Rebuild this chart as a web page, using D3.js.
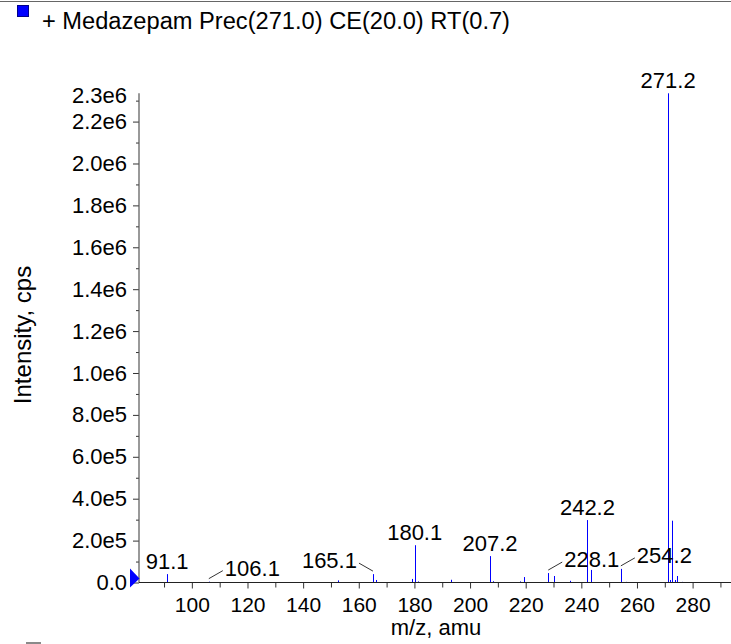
<!DOCTYPE html>
<html>
<head>
<meta charset="utf-8">
<script src="https://cdn.jsdelivr.net/npm/d3@7"></script>
<style>
  html, body { margin: 0; padding: 0; background: #fff; }
  svg { display: block; font-family: "Liberation Sans", Arial, Helvetica, sans-serif; }
</style>
</head>
<body>
<svg id="chart" width="731" height="644"></svg>
<script>
// ---- data ----
const title = "+ Medazepam Prec(271.0) CE(20.0) RT(0.7)";
const xTitle = "m/z, amu";
const yTitle = "Intensity, cps";

// all sticks of the spectrum
const stickMz = [91.1, 106.1, 125.7, 130.5, 135.3, 140.4, 152.4, 165.1, 166.1, 179.0, 180.1, 181.2,
  193.2, 207.2, 208.4, 218.0, 219.5, 228.1, 230.1, 236.0, 242.2, 243.6, 254.2, 256.2,
  271.2, 271.9, 272.7, 273.8, 274.5, 276.2];
const stickIntensity = [40000, 4000, 2000, 2000, 2000, 2000, 10000, 40000, 12000, 17000, 178000, 5000,
  13000, 126000, 6000, 5000, 26000, 45000, 31000, 8000, 298000, 60000, 65000, 3000,
  2335000, 12000, 295000, 12000, 31000, 3000];

// labelled peaks
const labelMz = [91.1, 106.1, 165.1, 180.1, 207.2, 228.1, 242.2, 254.2, 271.2];
const labelIntensity = [40000, 4000, 40000, 178000, 126000, 45000, 298000, 65000, 2335000];
const labelText = ["91.1", "106.1", "165.1", "180.1", "207.2", "228.1", "242.2", "254.2", "271.2"];
// leader direction for labels that are offset from their peak (0 = directly above)
const labelLeader = [0, 1, -1, 0, 0, 1, 0, 1, 0];

const xDomain = [81, 293.8];
const yDomain = [0, 2335000];
const xMajorTicks = [100, 120, 140, 160, 180, 200, 220, 240, 260, 280];
const xMinorTicks = [90, 110, 130, 150, 170, 190, 210, 230, 250, 270, 290];
const yMajorTicks = [0, 200000, 400000, 600000, 800000, 1000000, 1200000, 1400000, 1600000,
  1800000, 2000000, 2200000];
const yMinorTicks = [100000, 300000, 500000, 700000, 900000, 1100000, 1300000, 1500000, 1700000,
  1900000, 2100000, 2300000];
const yTickLabels = ["0.0", "2.0e5", "4.0e5", "6.0e5", "8.0e5", "1.0e6", "1.2e6", "1.4e6", "1.6e6",
  "1.8e6", "2.0e6", "2.2e6"];
const yTopLabel = "2.3e6";

(function () {
// ---- layout ----
const svg = d3.select("#chart");
const pLeft = 139, pRight = 731, pTop = 93.3, pBottom = 582.5;
const x = d3.scaleLinear().domain(xDomain).range([pLeft, pRight]);
const y = d3.scaleLinear().domain(yDomain).range([pBottom, pTop]);
const blue = "#0000ff";
const snap = v => Math.round(v) + 0.5;

// top frame line
svg.append("line").attr("x1", 0).attr("x2", 731).attr("y1", 1.5).attr("y2", 1.5)
  .attr("stroke", "#666").attr("stroke-width", 1.2);

// legend
svg.append("rect").attr("x", 17.5).attr("y", 5.5).attr("width", 11).attr("height", 11)
  .attr("fill", blue).attr("stroke", "#00008b").attr("stroke-width", 1);
svg.append("text").attr("x", 42).attr("y", 29).attr("font-size", 23)
  .attr("textLength", 468).attr("lengthAdjust", "spacingAndGlyphs").text(title);
// clipped second legend square at bottom
svg.append("rect").attr("x", 26).attr("y", 642).attr("width", 15).attr("height", 4).attr("fill", "#8a8a8a");

// sticks
const sticks = stickMz.map((m, i) => ({ m, v: stickIntensity[i] }));
svg.append("g").selectAll("line").data(sticks).join("line")
  .attr("x1", d => snap(x(d.m))).attr("x2", d => snap(x(d.m)))
  .attr("y1", y(0)).attr("y2", d => y(d.v))
  .attr("stroke", blue).attr("stroke-width", 1);

// y axis
const yAxis = svg.append("g").attr("transform", `translate(${pLeft},0)`)
  .call(d3.axisLeft(y).tickValues(yMajorTicks).tickSize(6).tickPadding(6)
    .tickFormat((d, i) => yTickLabels[i]));
yAxis.select(".domain").remove();
yAxis.selectAll("text").attr("font-size", 22).attr("font-family", null).attr("fill", "#000");
yAxis.selectAll("line").attr("stroke", "#333");
svg.append("g").attr("transform", `translate(${pLeft},0)`)
  .call(d3.axisLeft(y).tickValues(yMinorTicks).tickSize(3).tickFormat(""))
  .call(g => g.select(".domain").remove())
  .selectAll("line").attr("stroke", "#333");
svg.append("line").attr("x1", pLeft).attr("x2", pLeft).attr("y1", pTop).attr("y2", pBottom)
  .attr("stroke", "#555").attr("stroke-width", 1.2);
svg.append("text").attr("x", pLeft - 12).attr("y", y(2300000) - 5).attr("dy", "0.32em")
  .attr("text-anchor", "end").attr("font-size", 22).text(yTopLabel);

// x axis
const xAxis = svg.append("g").attr("transform", `translate(0,${pBottom})`)
  .call(d3.axisBottom(x).tickValues(xMajorTicks).tickSize(6).tickPadding(9).tickFormat(d3.format("d")));
xAxis.select(".domain").remove();
xAxis.selectAll("text").attr("font-size", 21).attr("font-family", null).attr("fill", "#000");
xAxis.selectAll("line").attr("stroke", "#333");
svg.append("g").attr("transform", `translate(0,${pBottom})`)
  .call(d3.axisBottom(x).tickValues(xMinorTicks).tickSize(5).tickFormat(""))
  .call(g => g.select(".domain").remove())
  .selectAll("line").attr("stroke", "#333");
svg.append("line").attr("x1", pLeft).attr("x2", pRight).attr("y1", pBottom).attr("y2", pBottom)
  .attr("stroke", "#222").attr("stroke-width", 1.2);

// zero marker
svg.append("path").attr("d", `M${pLeft - 9},${y(0) - 14} L${pLeft + 0.5},${y(0) - 4} L${pLeft - 9},${y(0) + 5} Z`)
  .attr("fill", blue);

// axis titles
svg.append("text").attr("x", 436).attr("y", 635).attr("text-anchor", "middle")
  .attr("font-size", 22).text(xTitle);
svg.append("text").attr("transform", "translate(31,335) rotate(-90)").attr("text-anchor", "middle")
  .attr("font-size", 24).text(yTitle);

// peak labels
const labels = labelMz.map((m, i) => ({ m, v: labelIntensity[i], t: labelText[i], dir: labelLeader[i] }));
const lg = svg.append("g");
labels.forEach(d => {
  const px = x(d.m), py = y(d.v);
  if (d.dir === 0) {
    lg.append("text").attr("x", px).attr("y", py - 5).attr("text-anchor", "middle")
      .attr("font-size", 22).text(d.t);
  } else {
    const x0 = px, y0 = py - 3;
    const x1 = px + d.dir * 14, y1 = y0 - 8;
    lg.append("line").attr("x1", x0).attr("y1", y0).attr("x2", x1).attr("y2", y1)
      .attr("stroke", "#000").attr("stroke-width", 0.8);
    lg.append("text").attr("x", x1 + d.dir * 2).attr("y", y1 + 5)
      .attr("text-anchor", d.dir > 0 ? "start" : "end")
      .attr("font-size", 22).text(d.t);
  }
});
})();
</script>
</body>
</html>
